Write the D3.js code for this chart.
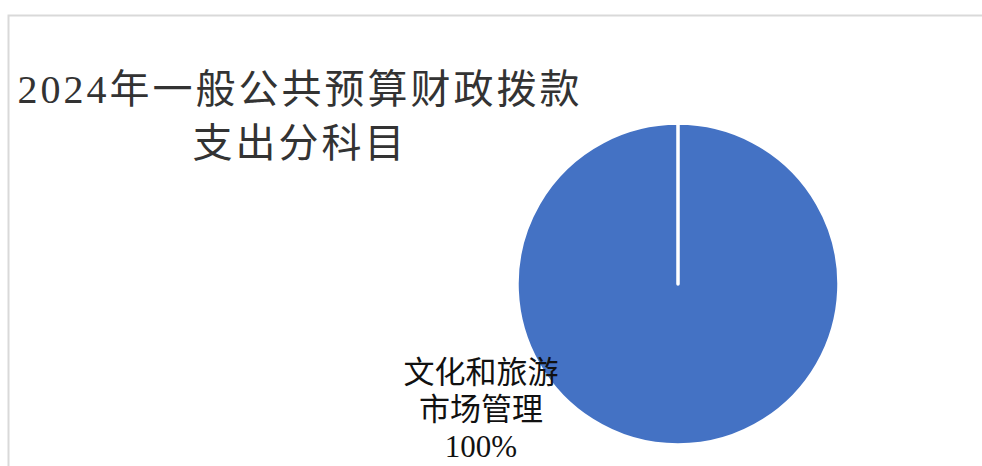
<!DOCTYPE html>
<head>
  <meta charset="utf-8">
  <script src="https://cdn.jsdelivr.net/npm/d3@7/dist/d3.min.js"></script>
  <style>
    body { margin: 0; background: #fff; }
    text { font-family: "Liberation Serif", "Noto Sans CJK SC", serif; }
  </style>
</head>

<body>
  <div id="chart"></div>

  <script>
    // Chart data
    var titleLines = ["2024年一般公共预算财政拨款", "支出分科目"];
    var categories = ["文化和旅游市场管理"];
    var values = [100];
    // how the category label wraps
    var labelLines = [["文化和旅游", "市场管理"]];
    var colours = ["#4472c4"];

    var width = 982, height = 466;
    var cx = 678, cy = 284, radius = 161;

    var svg = d3.select("#chart").append("svg")
        .attr("width", width)
        .attr("height", height);

    // light chart-area border (only top and left are in view)
    svg.append("rect")
        .attr("x", 8.5)
        .attr("y", 15.5)
        .attr("width", width + 20)
        .attr("height", height + 20)
        .style("fill", "none")
        .style("stroke", "#d9d9d9")
        .style("stroke-width", 2);

    // Title
    var title = svg.append("text")
        .attr("text-anchor", "middle")
        .style("font-size", "40px")
        .style("letter-spacing", "3px")
        .style("fill", "#333");
    title.selectAll("tspan")
        .data(titleLines)
        .enter().append("tspan")
        .attr("x", 300)
        .attr("y", function(d, i) { return 103 + i * 54; })
        .text(function(d) { return d; });

    // Pie
    var total = d3.sum(values);
    var pie = d3.pie()
        .sort(null)
        .startAngle(0)
        .endAngle(2 * Math.PI - 1e-4);  // keep the slice border line at 12 o'clock
    var arc = d3.arc().innerRadius(0).outerRadius(radius);

    var g = svg.append("g")
        .attr("transform", "translate(" + cx + "," + cy + ")");

    g.selectAll("path")
        .data(pie(values))
        .enter().append("path")
        .attr("d", arc)
        .style("fill", function(d, i) { return colours[i]; })
        .style("stroke", "#fff")
        .style("stroke-width", 3.5)
        .style("stroke-linejoin", "round");

    // Data label, placed below-left as the original
    var label = g.selectAll(".label")
        .data(pie(values))
        .enter().append("text")
        .attr("class", "label")
        .attr("text-anchor", "middle")
        .style("font-size", "31px")
        .style("fill", "#111");

    label.each(function(d, i) {
        var lines = labelLines[i].concat([Math.round(d.value / total * 100) + "%"]);
        d3.select(this).selectAll("tspan")
            .data(lines)
            .enter().append("tspan")
            .attr("x", -197)
            .attr("y", function(t, j) { return 99 + j * 37; })
            .text(function(t) { return t; });
    });
  </script>
</body>
